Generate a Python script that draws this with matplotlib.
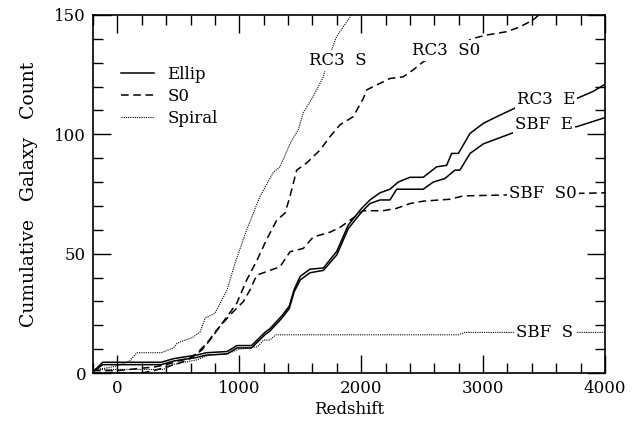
import matplotlib
matplotlib.use("Agg")
import matplotlib.pyplot as plt
from matplotlib.ticker import MultipleLocator

# Courbes cumulées (redshift, nombre de galaxies)
rc3_e_x = [-200, -120, 360, 460, 520, 650, 730, 900, 980, 1100, 1210, 1250, 1350, 1410, 1450, 1500, 1580, 1690,
           1800, 1894, 2004, 2072, 2154, 2236, 2304, 2400, 2509, 2619, 2701, 2742, 2797, 2893, 3002, 3112, 3262,
           3754, 3904, 4000]
rc3_e_y = [0.5, 4.5, 4.5, 6, 6.5, 7.5, 8.5, 9, 11.5, 11.5, 17, 18.5, 24, 28, 35, 40.5, 43.5, 44,
           51, 62, 69, 72.5, 75.5, 77, 80, 82, 82, 86.4, 87, 92, 92, 100.4, 104.6, 107.4, 111,
           114.7, 118, 121]

sbf_e_x = [-200, -120, 360, 460, 520, 650, 730, 900, 980, 1100, 1210, 1250, 1350, 1410, 1450, 1500, 1580, 1690,
           1800, 1894, 2004, 2072, 2154, 2236, 2291, 2509, 2591, 2687, 2769, 2810, 2893, 3002, 3248, 3768, 4000]
sbf_e_y = [0.5, 3.5, 3.5, 5, 5.5, 6.5, 7.5, 8, 10.5, 10.5, 16, 17.5, 23, 27, 34, 39, 42, 43,
           49.5, 60.5, 67.5, 71, 72.5, 72.5, 77, 77, 80, 81.5, 85, 85, 92, 96, 100.7, 103.2, 107]

rc3_s0_x = [-200, 0, 200, 300, 400, 500, 596, 692, 760, 869, 979, 1061, 1143, 1225, 1307, 1375, 1416, 1471,
            1553, 1662, 1744, 1826, 1935, 2017, 2045, 2099, 2181, 2236, 2345, 2427, 2509, 2700, 2919, 3029,
            3193, 3302, 3412, 3480]
rc3_s0_y = [0, 0, 0, 1, 2.5, 4, 6, 9.6, 13.8, 21.5, 29.2, 39, 47, 56, 64, 67, 74, 85,
            88, 93.4, 99, 104, 107.4, 115, 118.6, 120, 122, 123.4, 124.1, 127, 130.4, 135, 140.2, 141.6,
            143, 145, 148, 151]

sbf_s0_x = [-200, 0, 100, 300, 400, 500, 600, 651, 733, 815, 924, 1033, 1088, 1143, 1252, 1334, 1416, 1525,
            1607, 1744, 1826, 1908, 1990, 2017, 2181, 2291, 2400, 2509, 2728, 2837, 4000]
sbf_s0_y = [1, 1, 1.5, 2.5, 3.5, 5, 6.5, 8.2, 12.4, 18, 24.3, 29.9, 34.8, 41, 43, 44.5, 50.8, 52.2,
            57, 59, 61, 64, 67, 68, 68, 69, 71, 72, 72.8, 74.2, 75.5]

rc3_s_x = [-200, -100, 0, 100, 160, 360, 460, 490, 620, 680, 720, 800, 900, 965, 1061, 1170, 1279, 1334,
           1416, 1484, 1525, 1607, 1689, 1717, 1799, 1920]
rc3_s_y = [1.5, 2, 3, 5, 8.5, 8.5, 10.5, 12.5, 15, 17.3, 23, 25, 34.8, 46, 60, 74, 84, 86.4,
           96, 102, 109, 116, 124, 130, 141, 150]

sbf_s_x = [-200, 380, 450, 650, 750, 900, 1000, 1150, 1200, 1250, 1300, 2800, 2850, 4000]
sbf_s_y = [1.5, 1.5, 3.5, 5.5, 7.5, 8, 10, 11, 13.8, 13.8, 16, 16, 17, 17]

# Etiquettes posées sur les courbes
labels = ["RC3  S", "RC3  S0", "RC3  E", "SBF  E", "SBF  S0", "SBF  S"]
label_x = [1810, 2696, 3516, 3497, 3491, 3508]
label_y = [131, 135.3, 114.4, 104.3, 75.4, 16.8]

plt.rcParams['font.family'] = ['DejaVu Serif']

fig = plt.figure(figsize=(6.4, 4.21), dpi=100)
ax = fig.add_axes([0.1453, 0.114, 0.80, 0.8504])

solid = dict(color='black', lw=1.1, linestyle='-')
dashed = dict(color='black', lw=1.1, linestyle=(0, (5, 3)))
dotted = dict(color='black', lw=0.8, linestyle=(0, (1, 1)))

ax.plot(rc3_e_x, rc3_e_y, label='Ellip', **solid)
ax.plot(sbf_e_x, sbf_e_y, **solid)
ax.plot(rc3_s0_x, rc3_s0_y, label='S0', **dashed)
ax.plot(sbf_s0_x, sbf_s0_y, **dashed)
ax.plot(rc3_s_x, rc3_s_y, label='Spiral', **dotted)
ax.plot(sbf_s_x, sbf_s_y, **dotted)

for txt, x, y in zip(labels, label_x, label_y):
    ax.text(x, y, txt, ha='center', va='center', fontsize=12,
            bbox=dict(facecolor='white', edgecolor='none', pad=1.5))

ax.set_xlim(-200, 4000)
ax.set_ylim(0, 150)
ax.xaxis.set_major_locator(MultipleLocator(1000))
ax.xaxis.set_minor_locator(MultipleLocator(200))
ax.yaxis.set_major_locator(MultipleLocator(50))
ax.yaxis.set_minor_locator(MultipleLocator(10))
ax.tick_params(which='both', direction='in', top=True, right=True, width=1, labelsize=12)
ax.tick_params(which='major', length=13, pad=5)
ax.tick_params(which='minor', length=7)
for s in ax.spines.values():
    s.set_linewidth(1.2)

ax.set_xlabel('Redshift', fontsize=12, labelpad=3)
ax.set_ylabel('Cumulative   Galaxy   Count', fontsize=13.5, labelpad=12)

ax.legend(loc='upper left', bbox_to_anchor=(0.025, 0.90), frameon=False, fontsize=12,
          handlelength=2.0, labelspacing=0.3, handletextpad=0.8)

plt.savefig('out.png', dpi=100)
